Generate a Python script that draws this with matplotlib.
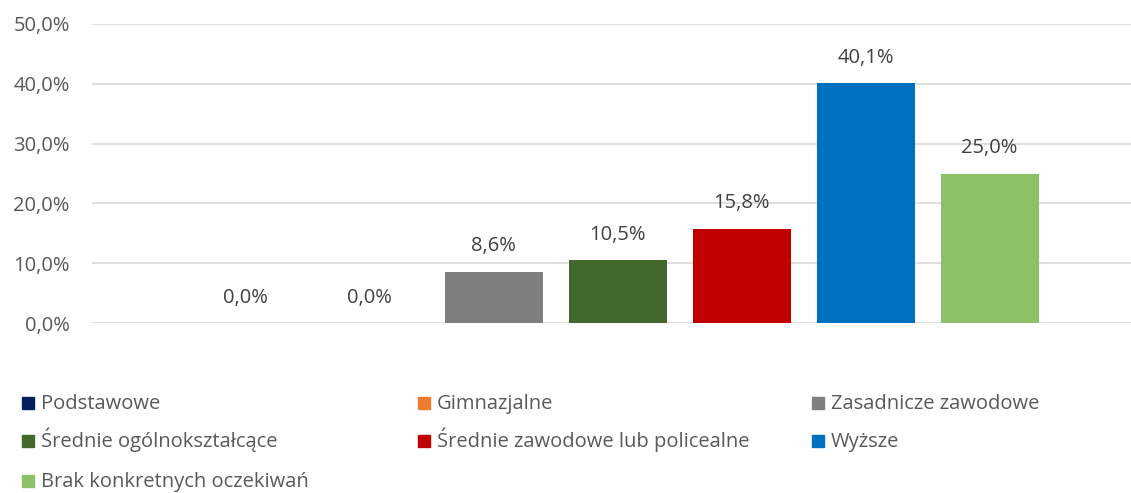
import matplotlib
matplotlib.use("Agg")
import matplotlib.pyplot as plt
from matplotlib.patches import Rectangle
from matplotlib.ticker import FuncFormatter

# dane
categories = ["Podstawowe", "Gimnazjalne", "Zasadnicze zawodowe",
              "Średnie ogólnokształcące", "Średnie zawodowe lub policealne",
              "Wyższe", "Brak konkretnych oczekiwań"]
values = [0.0, 0.0, 8.6, 10.5, 15.8, 40.1, 25.0]
colors = ["#002060", "#ED7D31", "#7F7F7F", "#43682B", "#C00000", "#0070C0", "#8DC167"]
yticks = [0, 10, 20, 30, 40, 50]

plt.rcParams['font.family'] = ['Open Sans', 'DejaVu Sans']
fs = 14.5
W, H = 1131, 493

def pl(v):
    return f"{v:.1f}%".replace(".", ",")

fig = plt.figure(figsize=(W / 100, H / 100), dpi=100)
ax = fig.add_axes([92 / W, 1 - 323 / H, 1 - 92 / W, (323 - 24) / H])

for i, (lab, v, c) in enumerate(zip(categories, values, colors)):
    ax.bar(i, v, width=0.79, color=c, label=lab, zorder=3)
    ax.annotate(pl(v), (i, v), xytext=(0, 11), textcoords="offset points",
                ha="center", va="bottom", fontsize=fs, color="#404040")

ax.set_xlim(-1.24, 7.14)
ax.set_ylim(0, 50)
ax.set_yticks(yticks)
ax.yaxis.set_major_formatter(FuncFormatter(lambda v, p: pl(v)))
ax.grid(axis="y", color="#D9D9D9", linewidth=1.2, zorder=0)
ax.set_xticks([])
for s in ax.spines.values():
    s.set_visible(False)
ax.tick_params(axis="y", length=0, pad=16, labelsize=fs, labelcolor="#595959")

# legenda: 3 kolumny, wiersz po wierszu
col_x = [22, 418, 812]
row_y = [403, 441, 481]
sq = 12
for k, (lab, c) in enumerate(zip(categories, colors)):
    x0 = col_x[k % 3]
    y0 = row_y[k // 3]
    fig.patches.append(Rectangle((x0 / W, 1 - (y0 + sq / 2) / H), sq / W, sq / H,
                                 transform=fig.transFigure, color=c))
    fig.text((x0 + sq + 7) / W, 1 - (y0 + 6) / H, lab, fontsize=fs,
             color="#595959", ha="left", va="baseline")

fig.savefig("out.png", dpi=100)
